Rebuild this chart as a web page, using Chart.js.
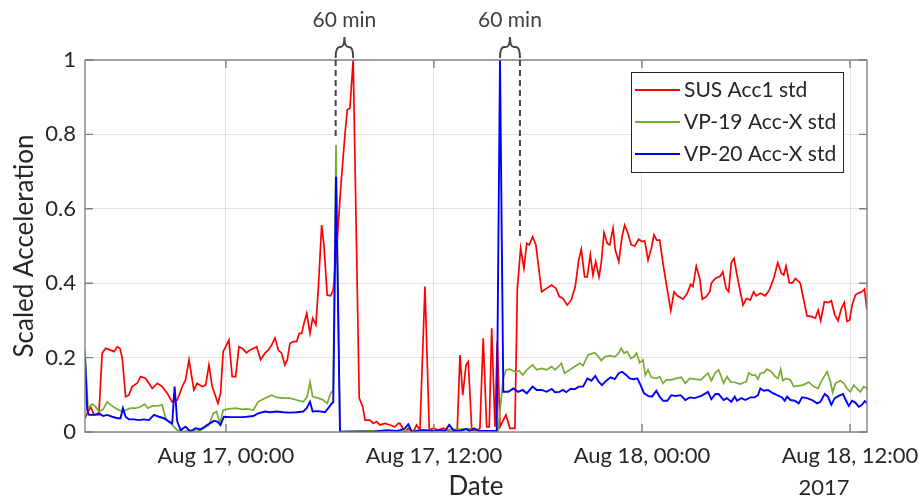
<!DOCTYPE html>
<html>
<head>
<meta charset="utf-8">
<script src="https://cdn.jsdelivr.net/npm/chart.js@4.4.1/dist/chart.umd.min.js"></script>
<style>
  html, body { margin: 0; padding: 0; background: #fff; }
  canvas { display: block; }
</style>
</head>
<body>
<canvas id="accChart" width="919" height="502"></canvas>
<script>
// hours relative to Aug 17 2017, 00:00
const xMinHours = -8.13;
const xMaxHours = 36.98;
const xTickHours = [0, 12, 24, 36];
const xTickLabels = ['Aug 17, 00:00', 'Aug 17, 12:00', 'Aug 18, 00:00', 'Aug 18, 12:00'];
const yTickValues = [0, 0.2, 0.4, 0.6, 0.8, 1];
const yTickLabels = ['0', '0.2', '0.4', '0.6', '0.8', '1'];

const seriesNames = ['SUS Acc1 std', 'VP-19 Acc-X std', 'VP-20 Acc-X std'];
const seriesColors = ['#ff0000', '#77ac30', '#0000ff'];

const susHours = [-8.13,-7.81,-7.62,-7.33,-7.14,-6.94,-6.65,-6.46,-6.27,-6.12,
  -5.98,-5.79,-5.60,-5.41,-5.12,-4.92,-4.63,-4.44,-4.25,-3.96,
  -3.68,-3.39,-3.10,-2.81,-2.52,-2.33,-2.13,-1.85,-1.66,-1.37,
  -1.17,-0.98,-0.79,-0.59,-0.46,-0.31,-0.16,0.17,0.36,0.56,
  0.75,0.94,1.19,1.38,1.77,2.00,2.25,2.44,2.64,2.83,
  3.02,3.21,3.40,3.54,3.69,3.88,4.08,4.23,4.37,4.50,
  4.66,4.85,5.00,5.19,5.33,5.52,5.65,5.84,6.04,6.19,
  6.39,6.62,6.87,7.00,7.15,7.34,7.69,7.89,8.02,8.31,
  8.50,8.69,8.88,9.17,9.46,9.75,9.94,10.04,10.33,10.52,
  10.81,11.00,11.19,11.48,11.73,11.96,12.25,12.54,12.92,13.34,
  13.50,13.66,13.85,13.98,14.18,14.50,14.65,14.84,15.04,15.19,
  15.33,15.52,15.65,15.81,16.15,16.38,16.67,16.81,17.00,17.19,
  17.35,17.50,17.69,17.88,18.21,18.50,18.79,19.04,19.23,19.44,
  19.69,19.92,20.15,20.35,20.50,20.69,20.84,21.02,21.17,21.33,
  21.52,21.65,21.81,22.00,22.14,22.33,22.46,22.66,22.85,23.00,
  23.19,23.38,23.58,23.81,24.00,24.16,24.35,24.54,24.69,24.85,
  25.02,25.21,25.46,25.66,25.85,26.04,26.37,26.61,26.81,26.94,
  27.13,27.33,27.48,27.71,27.91,28.00,28.23,28.52,28.66,28.85,
  29.00,29.15,29.31,29.48,29.67,29.83,30.02,30.25,30.44,30.59,
  30.83,31.11,31.35,31.60,31.83,32.04,32.18,32.31,32.50,32.69,
  32.85,33.13,33.52,33.81,34.00,34.16,34.31,34.52,34.77,34.92,
  35.12,35.31,35.50,35.67,35.83,35.98,36.12,36.31,36.50,36.69,
  36.83,36.98];
const susValues = [0.037,0.068,0.046,0.046,0.212,0.225,0.220,0.216,0.229,0.225,
  0.199,0.095,0.099,0.122,0.131,0.149,0.144,0.131,0.117,0.131,
  0.122,0.104,0.081,0.086,0.122,0.140,0.194,0.113,0.131,0.122,
  0.126,0.180,0.122,0.095,0.077,0.104,0.216,0.247,0.149,0.149,
  0.229,0.225,0.213,0.220,0.229,0.194,0.212,0.220,0.234,0.253,
  0.220,0.212,0.180,0.194,0.238,0.243,0.243,0.265,0.265,0.292,
  0.319,0.265,0.306,0.288,0.386,0.556,0.503,0.368,0.366,0.382,
  0.494,0.655,0.803,0.866,0.870,1.000,0.091,0.068,0.032,0.032,
  0.023,0.028,0.019,0.023,0.019,0.014,0.023,0.023,0.001,0.010,
  0.001,0.019,0.005,0.391,0.005,0.010,0.005,0.010,0.001,0.001,
  0.207,0.099,0.180,0.189,0.005,0.005,0.010,0.252,0.014,0.014,
  0.279,0.014,0.243,0.014,0.046,0.010,0.010,0.386,0.494,0.440,
  0.507,0.503,0.525,0.503,0.377,0.386,0.395,0.386,0.364,0.359,
  0.341,0.355,0.391,0.462,0.491,0.417,0.417,0.476,0.422,0.458,
  0.417,0.454,0.536,0.507,0.503,0.548,0.489,0.458,0.525,0.556,
  0.534,0.503,0.500,0.518,0.512,0.514,0.462,0.494,0.530,0.516,
  0.516,0.454,0.382,0.326,0.377,0.366,0.357,0.373,0.397,0.391,
  0.446,0.413,0.357,0.364,0.377,0.400,0.413,0.419,0.431,0.386,
  0.377,0.455,0.467,0.422,0.377,0.341,0.359,0.355,0.377,0.366,
  0.373,0.366,0.382,0.413,0.455,0.427,0.422,0.446,0.401,0.401,
  0.413,0.400,0.312,0.310,0.306,0.328,0.299,0.350,0.348,0.353,
  0.315,0.299,0.332,0.348,0.297,0.301,0.341,0.368,0.374,0.377,
  0.384,0.328];

const vp19Hours = [-8.13,-7.96,-7.71,-7.52,-7.33,-7.08,-6.85,-6.65,-6.36,-6.08,
  -5.79,-5.50,-5.21,-4.92,-4.69,-4.50,-4.25,-3.96,-3.68,-3.48,
  -3.19,-2.81,-2.42,-2.04,-1.66,-1.27,-0.98,-0.73,-0.54,-0.35,
  -0.16,0.17,0.56,0.94,1.19,1.58,1.86,2.25,2.64,2.93,
  3.31,3.69,4.08,4.46,4.69,4.85,5.00,5.33,5.61,5.84,
  6.04,6.19,6.35,6.58,7.73,10.04,12.35,14.19,14.65,15.69,
  16.00,16.15,16.38,16.67,16.92,17.12,17.35,17.69,17.92,18.21,
  18.50,18.79,18.98,19.23,19.35,19.54,19.83,20.12,20.41,20.60,
  20.89,21.08,21.27,21.46,21.65,21.85,22.14,22.43,22.62,22.81,
  22.96,23.15,23.35,23.54,23.69,23.87,24.06,24.19,24.35,24.54,
  24.83,25.02,25.21,25.40,25.69,25.98,26.27,26.50,26.75,27.04,
  27.39,27.81,28.00,28.23,28.42,28.57,28.71,28.90,29.10,29.38,
  29.67,29.87,30.02,30.16,30.35,30.54,30.69,30.83,31.02,31.21,
  31.46,31.69,31.85,32.00,32.12,32.31,32.56,32.75,33.00,33.27,
  33.62,33.91,34.16,34.39,34.68,34.87,35.00,35.16,35.45,35.64,
  35.83,36.02,36.21,36.40,36.60,36.79,36.98];
const vp19Values = [0.220,0.064,0.075,0.068,0.055,0.061,0.081,0.073,0.064,0.057,
  0.059,0.064,0.064,0.068,0.075,0.064,0.070,0.070,0.073,0.037,
  0.023,0.005,0.001,0.005,0.001,0.010,0.019,0.050,0.055,0.023,
  0.059,0.062,0.064,0.061,0.062,0.059,0.081,0.091,0.099,0.093,
  0.091,0.091,0.086,0.081,0.095,0.135,0.095,0.091,0.086,0.077,
  0.104,0.113,0.772,0.001,0.003,0.003,0.005,0.009,0.003,0.003,
  0.144,0.167,0.169,0.162,0.164,0.153,0.167,0.180,0.167,0.171,
  0.167,0.176,0.167,0.178,0.185,0.158,0.167,0.176,0.185,0.178,
  0.207,0.210,0.213,0.204,0.192,0.202,0.205,0.202,0.210,0.225,
  0.212,0.216,0.198,0.202,0.212,0.186,0.194,0.153,0.167,0.147,
  0.144,0.149,0.131,0.140,0.140,0.144,0.147,0.131,0.144,0.142,
  0.140,0.158,0.138,0.159,0.167,0.149,0.131,0.149,0.135,0.133,
  0.129,0.133,0.135,0.159,0.153,0.153,0.142,0.158,0.159,0.169,
  0.162,0.149,0.144,0.169,0.138,0.144,0.140,0.122,0.124,0.126,
  0.134,0.122,0.117,0.140,0.162,0.135,0.106,0.131,0.138,0.131,
  0.117,0.108,0.126,0.117,0.108,0.122,0.117];

const vp20Hours = [-8.13,-8.00,-7.90,-7.62,-7.33,-7.08,-6.85,-6.56,-6.27,-6.08,
  -5.94,-5.79,-5.60,-5.31,-5.02,-4.73,-4.44,-4.15,-3.87,-3.58,
  -3.29,-3.10,-2.96,-2.81,-2.61,-2.33,-2.04,-1.75,-1.46,-1.23,
  -0.98,-0.69,-0.50,-0.31,-0.12,0.27,0.65,1.00,1.58,1.86,
  2.25,2.54,2.93,3.31,3.69,4.08,4.46,4.66,4.85,5.00,
  5.33,5.71,5.90,6.10,6.19,6.35,6.58,8.50,9.27,9.85,
  10.04,10.33,10.52,10.71,11.00,11.38,11.96,12.35,12.64,12.88,
  13.11,13.50,13.85,14.08,14.31,14.56,15.23,15.62,15.81,16.00,
  16.29,16.58,16.86,17.12,17.35,17.69,17.92,18.21,18.50,18.79,
  18.98,19.23,19.44,19.63,19.89,20.12,20.35,20.60,20.85,21.08,
  21.31,21.50,21.69,21.94,22.19,22.43,22.66,22.85,23.09,23.29,
  23.54,23.73,23.92,24.12,24.35,24.58,24.83,25.02,25.21,25.46,
  25.69,25.92,26.23,26.50,26.75,27.04,27.42,27.81,28.00,28.23,
  28.42,28.71,28.90,29.15,29.35,29.48,29.73,29.96,30.25,30.50,
  30.69,30.83,31.02,31.27,31.50,31.79,32.08,32.23,32.37,32.56,
  32.81,33.04,33.23,33.52,33.81,34.10,34.29,34.54,34.73,34.92,
  35.12,35.35,35.60,35.73,35.93,36.12,36.31,36.50,36.69,36.85,
  36.98];
const vp20Values = [0.198,0.059,0.046,0.046,0.050,0.043,0.046,0.041,0.037,0.037,
  0.064,0.041,0.034,0.034,0.032,0.034,0.032,0.046,0.041,0.037,
  0.028,0.023,0.122,0.028,0.005,0.014,0.001,0.010,0.007,0.014,
  0.022,0.030,0.028,0.019,0.041,0.040,0.040,0.040,0.043,0.050,
  0.055,0.053,0.055,0.053,0.052,0.053,0.055,0.064,0.081,0.055,
  0.056,0.053,0.064,0.077,0.080,0.686,0.001,0.001,0.005,0.003,
  0.005,0.010,0.021,0.001,0.003,0.005,0.003,0.005,0.003,0.019,
  0.005,0.003,0.008,0.003,0.010,0.003,0.003,0.003,1.000,0.108,
  0.108,0.117,0.108,0.113,0.104,0.122,0.113,0.113,0.108,0.116,
  0.107,0.108,0.113,0.107,0.116,0.115,0.122,0.122,0.144,0.138,
  0.151,0.135,0.126,0.138,0.147,0.142,0.158,0.162,0.153,0.144,
  0.142,0.144,0.126,0.104,0.097,0.095,0.111,0.095,0.084,0.084,
  0.099,0.097,0.099,0.086,0.093,0.091,0.097,0.108,0.088,0.102,
  0.102,0.086,0.091,0.081,0.095,0.084,0.091,0.086,0.093,0.093,
  0.099,0.117,0.111,0.113,0.106,0.099,0.093,0.084,0.095,0.086,
  0.084,0.077,0.093,0.091,0.086,0.077,0.081,0.102,0.095,0.073,
  0.091,0.097,0.102,0.088,0.070,0.084,0.079,0.068,0.073,0.083,
  0.077];

// the two 60 min gaps
const braceStartHours = [6.33, 15.81];
const braceEndHours = [7.34, 16.96];
const braceLabel = '60 min';
const dashHours = [6.33, 16.96];
const dashBottoms = [0.79, 0.52];

const yearLabel = '2017';

const toPoints = (hours, values) => hours.map((h, i) => ({ x: h, y: values[i] }));

const textColor = '#262626';
Chart.defaults.font.family = 'Lato, "Open Sans", sans-serif';
Chart.defaults.color = textColor;

function drawBrace(ctx, x1, x2, yBase, yTop) {
    const mid = (x1 + x2) / 2;
    const yH = yBase - 11;
    ctx.beginPath();
    ctx.moveTo(x1, yBase);
    ctx.quadraticCurveTo(x1, yH, x1 + 4, yH);
    ctx.lineTo(mid - 4, yH);
    ctx.quadraticCurveTo(mid, yH, mid, yTop);
    ctx.quadraticCurveTo(mid, yH, mid + 4, yH);
    ctx.lineTo(x2 - 4, yH);
    ctx.quadraticCurveTo(x2, yH, x2, yBase);
    ctx.stroke();
}

const axesBoxPlugin = {
    id: 'axesBox',
    afterDatasetsDraw(chart) {
        const { ctx, chartArea: a, scales: { x, y } } = chart;
        ctx.save();
        ctx.strokeStyle = '#808080';
        ctx.lineWidth = 1.4;
        ctx.strokeRect(a.left, a.top, a.right - a.left, a.bottom - a.top);

        // inner tick marks on all four sides
        ctx.beginPath();
        yTickValues.forEach(v => {
            const py = y.getPixelForValue(v);
            ctx.moveTo(a.left, py); ctx.lineTo(a.left + 8, py);
            ctx.moveTo(a.right, py); ctx.lineTo(a.right - 8, py);
        });
        xTickHours.forEach(h => {
            const px = x.getPixelForValue(h);
            ctx.moveTo(px, a.bottom); ctx.lineTo(px, a.bottom - 8);
            ctx.moveTo(px, a.top); ctx.lineTo(px, a.top + 8);
        });
        ctx.stroke();

        // dashed markers and braces
        ctx.strokeStyle = '#444444';
        ctx.lineWidth = 2;
        ctx.setLineDash([6, 4]);
        dashHours.forEach((h, i) => {
            const px = x.getPixelForValue(h);
            ctx.beginPath();
            ctx.moveTo(px, a.top);
            ctx.lineTo(px, y.getPixelForValue(dashBottoms[i]));
            ctx.stroke();
        });
        ctx.setLineDash([]);
        ctx.fillStyle = '#404040';
        ctx.font = '21px Lato, "Open Sans", sans-serif';
        ctx.textAlign = 'center';
        ctx.textBaseline = 'middle';
        braceStartHours.forEach((h, i) => {
            const x1 = x.getPixelForValue(h);
            const x2 = x.getPixelForValue(braceEndHours[i]);
            drawBrace(ctx, x1, x2, a.top - 2, a.top - 23);
            ctx.fillText(braceLabel, (x1 + x2) / 2, a.top - 40);
        });

        // legend box
        const lx = a.right - 236, ly = a.top + 12, lw = 212, lh = 100;
        ctx.fillStyle = '#ffffff';
        ctx.fillRect(lx, ly, lw, lh);
        ctx.strokeStyle = '#262626';
        ctx.lineWidth = 1;
        ctx.strokeRect(lx + 0.5, ly + 0.5, lw, lh);
        ctx.textAlign = 'left';
        ctx.font = '21px Lato, "Open Sans", sans-serif';
        seriesNames.forEach((name, i) => {
            const ry = ly + 18 + i * 32;
            ctx.strokeStyle = seriesColors[i];
            ctx.lineWidth = 1.8;
            ctx.beginPath();
            ctx.moveTo(lx + 4, ry);
            ctx.lineTo(lx + 49, ry);
            ctx.stroke();
            ctx.fillStyle = textColor;
            ctx.fillText(name, lx + 53, ry);
        });

        // secondary date label under the x axis
        ctx.font = '22px Lato, "Open Sans", sans-serif';
        ctx.textAlign = 'center';
        ctx.fillText(yearLabel, x.getPixelForValue(34.5), 488);
        ctx.restore();
    }
};

const gridColor = 'rgba(38,38,38,0.13)';

new Chart(document.getElementById('accChart'), {
    type: 'line',
    data: {
        datasets: [
            {
                label: seriesNames[0],
                data: toPoints(susHours, susValues),
                borderColor: seriesColors[0],
                borderWidth: 1.7,
                order: 3
            },
            {
                label: seriesNames[1],
                data: toPoints(vp19Hours, vp19Values),
                borderColor: seriesColors[1],
                borderWidth: 1.7,
                order: 2
            },
            {
                label: seriesNames[2],
                data: toPoints(vp20Hours, vp20Values),
                borderColor: seriesColors[2],
                borderWidth: 1.9,
                order: 1
            }
        ]
    },
    options: {
        responsive: false,
        animation: false,
        events: [],
        elements: {
            point: { radius: 0 },
            line: { tension: 0, fill: false }
        },
        layout: {
            padding: { top: 60, right: 52, bottom: 0, left: 0 }
        },
        plugins: {
            legend: { display: false },
            tooltip: { enabled: false }
        },
        scales: {
            x: {
                type: 'linear',
                min: xMinHours,
                max: xMaxHours,
                afterBuildTicks: (scale) => {
                    scale.ticks = xTickHours.map(v => ({ value: v }));
                },
                afterFit: (scale) => {
                    scale.height = 70;
                    scale.paddingLeft = 0;
                    scale.paddingRight = 0;
                },
                ticks: {
                    autoSkip: false,
                    maxRotation: 0,
                    minRotation: 0,
                    padding: 11,
                    font: { size: 22 },
                    color: textColor,
                    callback: (value) => xTickLabels[xTickHours.indexOf(value)]
                },
                grid: { color: gridColor, drawTicks: false },
                border: { display: false },
                title: {
                    display: true,
                    text: 'Date',
                    font: { size: 26 },
                    color: textColor,
                    padding: { top: 0, bottom: 0 }
                }
            },
            y: {
                min: 0,
                max: 1,
                afterBuildTicks: (scale) => {
                    scale.ticks = yTickValues.map(v => ({ value: v }));
                },
                afterFit: (scale) => {
                    scale.width = 85;
                    scale.paddingTop = 0;
                    scale.paddingBottom = 0;
                },
                ticks: {
                    padding: 9,
                    font: { size: 22 },
                    color: textColor,
                    callback: (value) => yTickLabels[yTickValues.indexOf(value)]
                },
                grid: { color: gridColor, drawTicks: false },
                border: { display: false },
                title: {
                    display: true,
                    text: 'Scaled Acceleration',
                    font: { size: 26 },
                    color: textColor,
                    padding: { top: 9, bottom: 0 }
                }
            }
        }
    },
    plugins: [axesBoxPlugin]
});
</script>
</body>
</html>
